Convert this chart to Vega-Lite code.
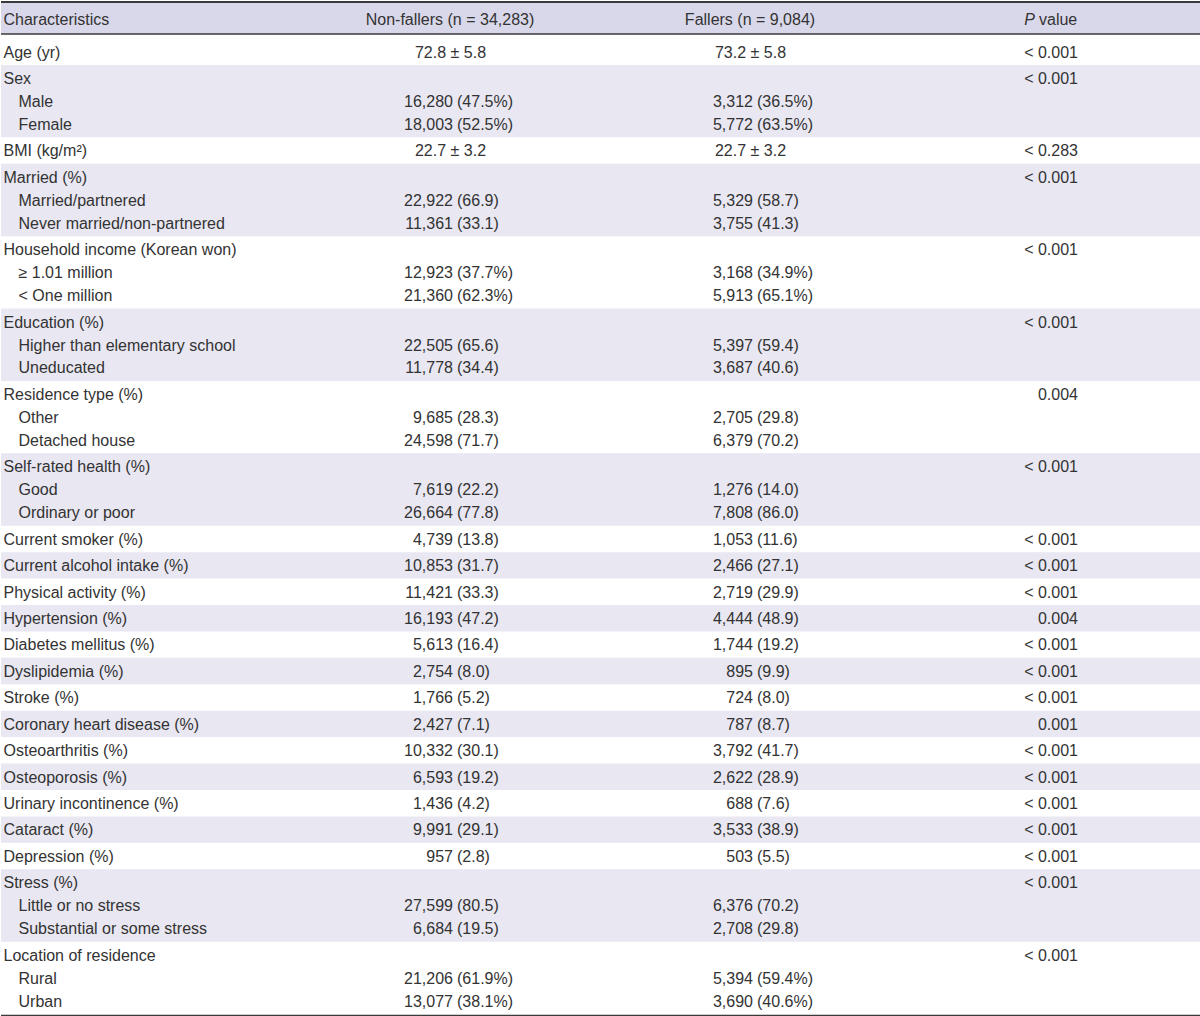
{
  "$schema": "https://vega.github.io/schema/vega-lite/v6.json",
  "width": 1200,
  "height": 1016,
  "padding": 0,
  "background": "white",
  "config": {"view": {"stroke": null}, "text": {"font": "Liberation Sans", "fontSize": 16, "color": "#333333"}},
  "datasets": {
    "header": [
      {"h": "Characteristics", "part": "label"},
      {"h": "Non-fallers (n = 34,283)", "part": "nf"},
      {"h": "Fallers (n = 9,084)", "part": "f"},
      {"h": "P", "part": "pi"},
      {"h": "value", "part": "pv"}
    ],
    "frame": [{"edge": "top"}],
    "rows": [
      {"row": 1, "group": 1, "sub": false, "label": "Age (yr)", "ms1": "72.8 ± 5.8", "ms2": "73.2 ± 5.8", "p": "< 0.001"},
      {"row": 2, "group": 2, "sub": false, "label": "Sex", "p": "< 0.001"},
      {"row": 3, "group": 2, "sub": true, "label": "Male", "n1": "16,280", "pc1": "(47.5%)", "n2": "3,312", "pc2": "(36.5%)"},
      {"row": 4, "group": 2, "sub": true, "label": "Female", "n1": "18,003", "pc1": "(52.5%)", "n2": "5,772", "pc2": "(63.5%)"},
      {"row": 5, "group": 3, "sub": false, "label": "BMI (kg/m²)", "ms1": "22.7 ± 3.2", "ms2": "22.7 ± 3.2", "p": "< 0.283"},
      {"row": 6, "group": 4, "sub": false, "label": "Married (%)", "p": "< 0.001"},
      {"row": 7, "group": 4, "sub": true, "label": "Married/partnered", "n1": "22,922", "pc1": "(66.9)", "n2": "5,329", "pc2": "(58.7)"},
      {"row": 8, "group": 4, "sub": true, "label": "Never married/non-partnered", "n1": "11,361", "pc1": "(33.1)", "n2": "3,755", "pc2": "(41.3)"},
      {"row": 9, "group": 5, "sub": false, "label": "Household income (Korean won)", "p": "< 0.001"},
      {"row": 10, "group": 5, "sub": true, "label": "≥ 1.01 million", "n1": "12,923", "pc1": "(37.7%)", "n2": "3,168", "pc2": "(34.9%)"},
      {"row": 11, "group": 5, "sub": true, "label": "< One million", "n1": "21,360", "pc1": "(62.3%)", "n2": "5,913", "pc2": "(65.1%)"},
      {"row": 12, "group": 6, "sub": false, "label": "Education (%)", "p": "< 0.001"},
      {"row": 13, "group": 6, "sub": true, "label": "Higher than elementary school", "n1": "22,505", "pc1": "(65.6)", "n2": "5,397", "pc2": "(59.4)"},
      {"row": 14, "group": 6, "sub": true, "label": "Uneducated", "n1": "11,778", "pc1": "(34.4)", "n2": "3,687", "pc2": "(40.6)"},
      {"row": 15, "group": 7, "sub": false, "label": "Residence type (%)", "p": "0.004"},
      {"row": 16, "group": 7, "sub": true, "label": "Other", "n1": "9,685", "pc1": "(28.3)", "n2": "2,705", "pc2": "(29.8)"},
      {"row": 17, "group": 7, "sub": true, "label": "Detached house", "n1": "24,598", "pc1": "(71.7)", "n2": "6,379", "pc2": "(70.2)"},
      {"row": 18, "group": 8, "sub": false, "label": "Self-rated health (%)", "p": "< 0.001"},
      {"row": 19, "group": 8, "sub": true, "label": "Good", "n1": "7,619", "pc1": "(22.2)", "n2": "1,276", "pc2": "(14.0)"},
      {"row": 20, "group": 8, "sub": true, "label": "Ordinary or poor", "n1": "26,664", "pc1": "(77.8)", "n2": "7,808", "pc2": "(86.0)"},
      {"row": 21, "group": 9, "sub": false, "label": "Current smoker (%)", "n1": "4,739", "pc1": "(13.8)", "n2": "1,053", "pc2": "(11.6)", "p": "< 0.001"},
      {"row": 22, "group": 10, "sub": false, "label": "Current alcohol intake (%)", "n1": "10,853", "pc1": "(31.7)", "n2": "2,466", "pc2": "(27.1)", "p": "< 0.001"},
      {"row": 23, "group": 11, "sub": false, "label": "Physical activity (%)", "n1": "11,421", "pc1": "(33.3)", "n2": "2,719", "pc2": "(29.9)", "p": "< 0.001"},
      {"row": 24, "group": 12, "sub": false, "label": "Hypertension (%)", "n1": "16,193", "pc1": "(47.2)", "n2": "4,444", "pc2": "(48.9)", "p": "0.004"},
      {"row": 25, "group": 13, "sub": false, "label": "Diabetes mellitus (%)", "n1": "5,613", "pc1": "(16.4)", "n2": "1,744", "pc2": "(19.2)", "p": "< 0.001"},
      {"row": 26, "group": 14, "sub": false, "label": "Dyslipidemia (%)", "n1": "2,754", "pc1": "(8.0)", "n2": "895", "pc2": "(9.9)", "p": "< 0.001"},
      {"row": 27, "group": 15, "sub": false, "label": "Stroke (%)", "n1": "1,766", "pc1": "(5.2)", "n2": "724", "pc2": "(8.0)", "p": "< 0.001"},
      {"row": 28, "group": 16, "sub": false, "label": "Coronary heart disease (%)", "n1": "2,427", "pc1": "(7.1)", "n2": "787", "pc2": "(8.7)", "p": "0.001"},
      {"row": 29, "group": 17, "sub": false, "label": "Osteoarthritis (%)", "n1": "10,332", "pc1": "(30.1)", "n2": "3,792", "pc2": "(41.7)", "p": "< 0.001"},
      {"row": 30, "group": 18, "sub": false, "label": "Osteoporosis (%)", "n1": "6,593", "pc1": "(19.2)", "n2": "2,622", "pc2": "(28.9)", "p": "< 0.001"},
      {"row": 31, "group": 19, "sub": false, "label": "Urinary incontinence (%)", "n1": "1,436", "pc1": "(4.2)", "n2": "688", "pc2": "(7.6)", "p": "< 0.001"},
      {"row": 32, "group": 20, "sub": false, "label": "Cataract (%)", "n1": "9,991", "pc1": "(29.1)", "n2": "3,533", "pc2": "(38.9)", "p": "< 0.001"},
      {"row": 33, "group": 21, "sub": false, "label": "Depression (%)", "n1": "957", "pc1": "(2.8)", "n2": "503", "pc2": "(5.5)", "p": "< 0.001"},
      {"row": 34, "group": 22, "sub": false, "label": "Stress (%)", "p": "< 0.001"},
      {"row": 35, "group": 22, "sub": true, "label": "Little or no stress", "n1": "27,599", "pc1": "(80.5)", "n2": "6,376", "pc2": "(70.2)"},
      {"row": 36, "group": 22, "sub": true, "label": "Substantial or some stress", "n1": "6,684", "pc1": "(19.5)", "n2": "2,708", "pc2": "(29.8)"},
      {"row": 37, "group": 23, "sub": false, "label": "Location of residence", "p": "< 0.001"},
      {"row": 38, "group": 23, "sub": true, "label": "Rural", "n1": "21,206", "pc1": "(61.9%)", "n2": "5,394", "pc2": "(59.4%)"},
      {"row": 39, "group": 23, "sub": true, "label": "Urban", "n1": "13,077", "pc1": "(38.1%)", "n2": "3,690", "pc2": "(40.6%)"}
    ]
  },
  "layer": [
    {
      "data": {"name": "frame"},
      "mark": {"type": "rect", "fill": "#d9d8ea"},
      "encoding": {
        "x": {"datum": 0, "type": "quantitative", "scale": {"domain": [0, 1200], "nice": false, "zero": false}, "axis": null},
        "x2": {"datum": 1200},
        "y": {"datum": -0.983, "type": "quantitative", "scale": {"domain": [-0.983, 43.229], "nice": false, "zero": false, "reverse": true}, "axis": null},
        "y2": {"datum": 0.4526}
      }
    },
    {
      "data": {"name": "rows"},
      "transform": [
        {"filter": "datum.group % 2 == 0"},
        {"calculate": "datum.row + 0.15 * datum.group", "as": "pos"},
        {"calculate": "datum.pos - 0.5", "as": "top"},
        {"calculate": "datum.pos + 0.65", "as": "bot"}
      ],
      "mark": {"type": "rect", "fill": "#e8e7f2"},
      "encoding": {
        "x": {"datum": 0, "type": "quantitative", "scale": {"domain": [0, 1200], "nice": false, "zero": false}, "axis": null},
        "x2": {"datum": 1200},
        "y": {"field": "top", "type": "quantitative", "scale": {"domain": [-0.983, 43.229], "nice": false, "zero": false, "reverse": true}, "axis": null},
        "y2": {"field": "bot"}
      }
    },
    {
      "data": {"name": "frame"},
      "mark": {"type": "rule", "stroke": "#3a3a3a", "strokeWidth": 2},
      "encoding": {"y": {"datum": -0.94, "type": "quantitative", "scale": {"domain": [-0.983, 43.229], "nice": false, "zero": false, "reverse": true}, "axis": null}}
    },
    {
      "data": {"name": "frame"},
      "mark": {"type": "rule", "stroke": "#3a3a3a", "strokeWidth": 1.6},
      "encoding": {"y": {"datum": 0.4526, "type": "quantitative", "scale": {"domain": [-0.983, 43.229], "nice": false, "zero": false, "reverse": true}, "axis": null}}
    },
    {
      "data": {"name": "frame"},
      "mark": {"type": "rule", "stroke": "#3a3a3a", "strokeWidth": 1.6},
      "encoding": {"y": {"datum": 43.164, "type": "quantitative", "scale": {"domain": [-0.983, 43.229], "nice": false, "zero": false, "reverse": true}, "axis": null}}
    },
    {
      "data": {"name": "header"},
      "transform": [{"filter": "datum.part == 'label'"}],
      "mark": {"type": "text", "align": "left", "baseline": "alphabetic", "dy": 1},
      "encoding": {
        "x": {"datum": 2.5, "type": "quantitative", "scale": {"domain": [0, 1200], "nice": false, "zero": false}, "axis": null},
        "y": {"datum": 0, "type": "quantitative", "scale": {"domain": [-0.983, 43.229], "nice": false, "zero": false, "reverse": true}, "axis": null},
        "text": {"field": "h"}
      }
    },
    {
      "data": {"name": "header"},
      "transform": [{"filter": "datum.part == 'nf'"}],
      "mark": {"type": "text", "align": "center", "baseline": "alphabetic", "dy": 1},
      "encoding": {
        "x": {"datum": 449, "type": "quantitative", "scale": {"domain": [0, 1200], "nice": false, "zero": false}, "axis": null},
        "y": {"datum": 0, "type": "quantitative", "scale": {"domain": [-0.983, 43.229], "nice": false, "zero": false, "reverse": true}, "axis": null},
        "text": {"field": "h"}
      }
    },
    {
      "data": {"name": "header"},
      "transform": [{"filter": "datum.part == 'f'"}],
      "mark": {"type": "text", "align": "center", "baseline": "alphabetic", "dy": 1},
      "encoding": {
        "x": {"datum": 749, "type": "quantitative", "scale": {"domain": [0, 1200], "nice": false, "zero": false}, "axis": null},
        "y": {"datum": 0, "type": "quantitative", "scale": {"domain": [-0.983, 43.229], "nice": false, "zero": false, "reverse": true}, "axis": null},
        "text": {"field": "h"}
      }
    },
    {
      "data": {"name": "header"},
      "transform": [{"filter": "datum.part == 'pi'"}],
      "mark": {"type": "text", "fontStyle": "italic", "align": "right", "baseline": "alphabetic", "dy": 1},
      "encoding": {
        "x": {"datum": 1034, "type": "quantitative", "scale": {"domain": [0, 1200], "nice": false, "zero": false}, "axis": null},
        "y": {"datum": 0, "type": "quantitative", "scale": {"domain": [-0.983, 43.229], "nice": false, "zero": false, "reverse": true}, "axis": null},
        "text": {"field": "h"}
      }
    },
    {
      "data": {"name": "header"},
      "transform": [{"filter": "datum.part == 'pv'"}],
      "mark": {"type": "text", "align": "left", "baseline": "alphabetic", "dy": 1},
      "encoding": {
        "x": {"datum": 1038, "type": "quantitative", "scale": {"domain": [0, 1200], "nice": false, "zero": false}, "axis": null},
        "y": {"datum": 0, "type": "quantitative", "scale": {"domain": [-0.983, 43.229], "nice": false, "zero": false, "reverse": true}, "axis": null},
        "text": {"field": "h"}
      }
    },
    {
      "data": {"name": "rows"},
      "transform": [{"calculate": "datum.row + 0.15 * datum.group", "as": "pos"}],
      "layer": [
        {
          "transform": [{"filter": "!datum.sub"}],
          "mark": {"type": "text", "align": "left", "baseline": "alphabetic", "dy": 7.5},
          "encoding": {
            "x": {"datum": 2.5, "type": "quantitative", "scale": {"domain": [0, 1200], "nice": false, "zero": false}, "axis": null},
            "y": {"field": "pos", "type": "quantitative", "scale": {"domain": [-0.983, 43.229], "nice": false, "zero": false, "reverse": true}, "axis": null},
            "text": {"field": "label"}
          }
        },
        {
          "transform": [{"filter": "datum.sub"}],
          "mark": {"type": "text", "align": "left", "baseline": "alphabetic", "dy": 7.5},
          "encoding": {
            "x": {"datum": 17.5, "type": "quantitative", "scale": {"domain": [0, 1200], "nice": false, "zero": false}, "axis": null},
            "y": {"field": "pos", "type": "quantitative", "scale": {"domain": [-0.983, 43.229], "nice": false, "zero": false, "reverse": true}, "axis": null},
            "text": {"field": "label"}
          }
        },
        {
          "transform": [{"filter": "datum.n1"}],
          "mark": {"type": "text", "align": "right", "baseline": "alphabetic", "dy": 7.5},
          "encoding": {
            "x": {"datum": 452, "type": "quantitative", "scale": {"domain": [0, 1200], "nice": false, "zero": false}, "axis": null},
            "y": {"field": "pos", "type": "quantitative", "scale": {"domain": [-0.983, 43.229], "nice": false, "zero": false, "reverse": true}, "axis": null},
            "text": {"field": "n1"}
          }
        },
        {
          "transform": [{"filter": "datum.pc1"}],
          "mark": {"type": "text", "align": "left", "baseline": "alphabetic", "dy": 7.5},
          "encoding": {
            "x": {"datum": 456, "type": "quantitative", "scale": {"domain": [0, 1200], "nice": false, "zero": false}, "axis": null},
            "y": {"field": "pos", "type": "quantitative", "scale": {"domain": [-0.983, 43.229], "nice": false, "zero": false, "reverse": true}, "axis": null},
            "text": {"field": "pc1"}
          }
        },
        {
          "transform": [{"filter": "datum.ms1"}],
          "mark": {"type": "text", "align": "center", "baseline": "alphabetic", "dy": 7.5},
          "encoding": {
            "x": {"datum": 449.5, "type": "quantitative", "scale": {"domain": [0, 1200], "nice": false, "zero": false}, "axis": null},
            "y": {"field": "pos", "type": "quantitative", "scale": {"domain": [-0.983, 43.229], "nice": false, "zero": false, "reverse": true}, "axis": null},
            "text": {"field": "ms1"}
          }
        },
        {
          "transform": [{"filter": "datum.n2"}],
          "mark": {"type": "text", "align": "right", "baseline": "alphabetic", "dy": 7.5},
          "encoding": {
            "x": {"datum": 752, "type": "quantitative", "scale": {"domain": [0, 1200], "nice": false, "zero": false}, "axis": null},
            "y": {"field": "pos", "type": "quantitative", "scale": {"domain": [-0.983, 43.229], "nice": false, "zero": false, "reverse": true}, "axis": null},
            "text": {"field": "n2"}
          }
        },
        {
          "transform": [{"filter": "datum.pc2"}],
          "mark": {"type": "text", "align": "left", "baseline": "alphabetic", "dy": 7.5},
          "encoding": {
            "x": {"datum": 756, "type": "quantitative", "scale": {"domain": [0, 1200], "nice": false, "zero": false}, "axis": null},
            "y": {"field": "pos", "type": "quantitative", "scale": {"domain": [-0.983, 43.229], "nice": false, "zero": false, "reverse": true}, "axis": null},
            "text": {"field": "pc2"}
          }
        },
        {
          "transform": [{"filter": "datum.ms2"}],
          "mark": {"type": "text", "align": "center", "baseline": "alphabetic", "dy": 7.5},
          "encoding": {
            "x": {"datum": 749.5, "type": "quantitative", "scale": {"domain": [0, 1200], "nice": false, "zero": false}, "axis": null},
            "y": {"field": "pos", "type": "quantitative", "scale": {"domain": [-0.983, 43.229], "nice": false, "zero": false, "reverse": true}, "axis": null},
            "text": {"field": "ms2"}
          }
        },
        {
          "transform": [{"filter": "datum.p"}],
          "mark": {"type": "text", "align": "right", "baseline": "alphabetic", "dy": 7.5},
          "encoding": {
            "x": {"datum": 1077, "type": "quantitative", "scale": {"domain": [0, 1200], "nice": false, "zero": false}, "axis": null},
            "y": {"field": "pos", "type": "quantitative", "scale": {"domain": [-0.983, 43.229], "nice": false, "zero": false, "reverse": true}, "axis": null},
            "text": {"field": "p"}
          }
        }
      ]
    }
  ]
}
